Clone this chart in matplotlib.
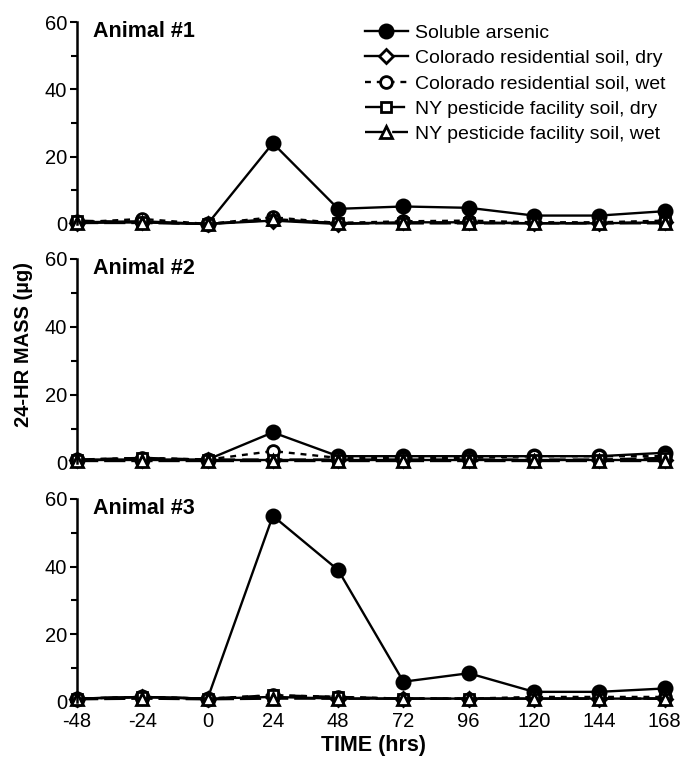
import matplotlib
matplotlib.use("Agg")
import matplotlib.pyplot as plt
from matplotlib.ticker import MultipleLocator

plt.rcParams['font.family'] = ['Liberation Sans', 'DejaVu Sans']
plt.rcParams['axes.unicode_minus'] = False

time_hrs = [-48, -24, 0, 24, 48, 72, 96, 120, 144, 168]
series_names = ["Soluble arsenic", "Colorado residential soil, dry",
                "Colorado residential soil, wet", "NY pesticide facility soil, dry",
                "NY pesticide facility soil, wet"]
animal_titles = ["Animal #1", "Animal #2", "Animal #3"]

# Animal 1
a1_soluble = [0.5, 0.8, 0.0, 24.0, 4.5, 5.2, 4.8, 2.5, 2.5, 3.8]
a1_co_dry = [0.3, 0.5, 0.0, 1.0, 0.0, 0.5, 0.5, 0.2, 0.2, 0.5]
a1_co_wet = [0.5, 1.5, 0.0, 2.0, 0.3, 0.8, 1.0, 0.5, 0.5, 1.0]
a1_ny_dry = [1.0, 0.5, 0.0, 1.2, 0.3, 0.3, 0.3, 0.3, 0.3, 0.5]
a1_ny_wet = [0.3, 0.3, 0.0, 1.5, 0.2, 0.2, 0.2, 0.2, 0.2, 0.2]

# Animal 2
a2_soluble = [1.0, 1.0, 1.0, 9.0, 2.0, 2.0, 2.0, 2.0, 2.0, 3.0]
a2_co_dry = [1.0, 1.0, 1.0, 1.0, 1.0, 1.0, 1.0, 1.0, 1.0, 1.0]
a2_co_wet = [1.0, 1.5, 1.0, 3.5, 1.5, 1.5, 1.5, 2.0, 2.0, 2.0]
a2_ny_dry = [1.0, 1.5, 1.0, 1.0, 1.0, 1.0, 1.0, 1.0, 1.0, 1.5]
a2_ny_wet = [0.5, 0.5, 0.5, 0.5, 0.5, 0.5, 0.5, 0.5, 0.5, 0.5]

# Animal 3
a3_soluble = [1.0, 1.5, 1.0, 55.0, 39.0, 6.0, 8.5, 3.0, 3.0, 4.0]
a3_co_dry = [1.0, 1.5, 1.0, 1.5, 1.0, 1.0, 1.0, 1.0, 1.0, 1.0]
a3_co_wet = [1.0, 1.5, 1.0, 2.0, 1.5, 1.0, 1.0, 1.5, 1.5, 1.5]
a3_ny_dry = [1.0, 1.5, 1.0, 2.0, 1.5, 1.0, 1.0, 1.0, 1.0, 1.0]
a3_ny_wet = [0.8, 1.0, 0.8, 1.0, 1.0, 1.0, 1.0, 1.0, 1.0, 1.0]

animals = [
    [a1_soluble, a1_co_dry, a1_co_wet, a1_ny_dry, a1_ny_wet],
    [a2_soluble, a2_co_dry, a2_co_wet, a2_ny_dry, a2_ny_wet],
    [a3_soluble, a3_co_dry, a3_co_wet, a3_ny_dry, a3_ny_wet],
]

styles = [
    dict(marker='o', mfc='black', ls='-', ms=9.5),
    dict(marker='D', mfc='white', ls='-', ms=7),
    dict(marker='o', mfc='white', ls=(0, (2.5, 2.5)), ms=8.5),
    dict(marker='s', mfc='white', ls=(0, (7, 3)), ms=7.5),
    dict(marker='^', mfc='white', ls=(0, (9, 2.5)), ms=8.5),
]

fig = plt.figure(figsize=(6.88, 7.59), dpi=100)
left, width = 0.1119, 0.862
boxes = [(0.7049, 0.2661), (0.39, 0.2688), (0.0751, 0.2675)]

for i, (bottom, height) in enumerate(boxes):
    ax = fig.add_axes([left, bottom, width, height])
    handles = []
    for vals, st, name in zip(animals[i], styles, series_names):
        h, = ax.plot(time_hrs, vals, color='black', lw=1.7, mec='black', mew=2.0,
                     clip_on=False, label=name, **st)
        handles.append(h)
    ax.set_xlim(-48, 170)
    ax.set_ylim(0, 60)
    ax.yaxis.set_major_locator(MultipleLocator(20))
    ax.yaxis.set_minor_locator(MultipleLocator(10))
    ax.tick_params(axis='y', which='major', length=5, width=1.5, labelsize=14.5, direction='out', pad=2)
    ax.tick_params(axis='y', which='minor', length=4, width=1.5)
    for s in ['top', 'right', 'bottom']:
        ax.spines[s].set_visible(False)
    ax.spines['left'].set_linewidth(1.8)
    ax.set_xticks(time_hrs)
    if i < 2:
        ax.tick_params(axis='x', which='both', length=0, labelbottom=False)
    else:
        ax.tick_params(axis='x', length=0, labelsize=14.5, pad=7)
        ax.set_xlabel("TIME (hrs)", fontsize=15.5, fontweight='bold', labelpad=3)
    ax.text(0.027, 1.005, animal_titles[i], transform=ax.transAxes, fontsize=15.5,
            fontweight='bold', ha='left', va='top')
    if i == 1:
        ax.set_ylabel("24-HR MASS (µg)", fontsize=14.5, fontweight='bold')
        ax.yaxis.set_label_coords(-0.074, 0.58)
    if i == 0:
        fig.legend(handles=handles, loc='upper left',
                   bbox_to_anchor=(365 / 688, 1 - 24 / 759),
                   bbox_transform=fig.transFigure,
                   frameon=False, fontsize=14, handlelength=2.2, handletextpad=0.35,
                   labelspacing=0.4, borderaxespad=0, borderpad=0)

fig.savefig("out.png", dpi=100)
